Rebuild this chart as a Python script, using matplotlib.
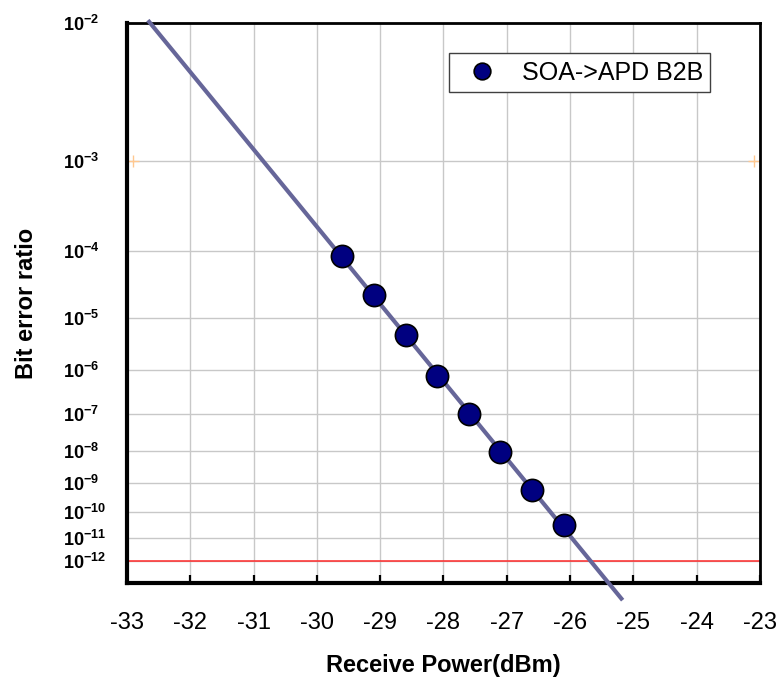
import math
import numpy as np
import matplotlib
matplotlib.use('Agg')
from matplotlib import pyplot as plt

# measured points (receive power in dBm, bit error ratio)
power = [-29.6, -29.1, -28.6, -28.1, -27.6, -27.1, -26.6, -26.1]
ber = [8.7e-5, 2.3e-5, 4.9e-6, 7.5e-7, 1.0e-7, 9.1e-9, 6.2e-10, 3.1e-11]

# extent of the fitted line
fit_range = [-32.67, -25.17]

x_ticks = list(range(-33, -22))
ber_ticks = [10.0 ** -n for n in range(2, 13)]
ber_labels = [r'$\mathbf{10^{-%d}}$' % n for n in range(2, 13)]

fec_x = [-32.9, -23.1]
fec_ber = [1e-3, 1e-3]
ref_ber = 1e-12
ber_bottom = 9e-14


def q_axis(b):
    # BER -> -log10(Q), Q from 0.5*erfc(Q/sqrt(2)) = BER
    out = []
    for v in np.atleast_1d(b):
        lo, hi = 0.0, 40.0
        for _ in range(80):
            mid = 0.5 * (lo + hi)
            if 0.5 * math.erfc(mid / math.sqrt(2)) > v:
                lo = mid
            else:
                hi = mid
        out.append(-math.log10(0.5 * (lo + hi)))
    return np.array(out)


plt.rcParams['font.family'] = ['Liberation Sans', 'DejaVu Sans']
plt.rcParams['mathtext.fontset'] = 'custom'
plt.rcParams['mathtext.rm'] = 'Liberation Sans'
plt.rcParams['mathtext.bf'] = 'Liberation Sans:bold'

fig = plt.figure(figsize=(7.78, 6.79), dpi=100)
ax = fig.add_axes([0.1632, 0.1414, 0.8137, 0.8247])

y = q_axis(ber)
coef = np.polyfit(power, y, 1)
fx = np.array(fit_range)
ax.plot(fx, np.polyval(coef, fx), color='#666699', lw=3.0, zorder=3, clip_on=False,
        solid_capstyle='butt')

ax.plot(power, y, 'o', ms=16, mfc='#000080', mec='black', mew=1.2, zorder=4,
        label='SOA->APD B2B')

ax.axhline(q_axis(ref_ber)[0], color='#ff2a2a', lw=1.1, zorder=2)
ax.plot(fec_x, q_axis(fec_ber), '+', color='#ffc890', ms=8, mew=1.0, zorder=2)

ax.set_xlim(-33, -23)
ax.set_ylim(q_axis(ber_bottom)[0], q_axis(1e-2)[0])
ax.set_xticks(x_ticks)
ax.set_xticklabels([str(v) for v in x_ticks], fontsize=17)
ax.set_yticks(q_axis(ber_ticks))
ax.set_yticklabels(ber_labels, fontsize=13)
for lbl in ax.get_yticklabels():
    lbl.set_ha('left')

ax.tick_params(axis='x', direction='in', length=6, width=1.6, pad=21)
ax.tick_params(axis='y', length=0, pad=46)
ax.grid(True, color='#c8c8c8', lw=1.0, zorder=0)
ax.set_axisbelow(True)

for side in ['left', 'bottom']:
    ax.spines[side].set_linewidth(3.0)
for side in ['top', 'right']:
    ax.spines[side].set_linewidth(2.0)

ax.set_xlabel('Receive Power(dBm)', fontsize=17, fontweight='bold', labelpad=14)
ax.set_ylabel('Bit error ratio', fontsize=17, fontweight='bold', labelpad=18)

leg = ax.legend(loc='upper left', bbox_to_anchor=(0.509, 0.946), borderaxespad=0,
                fontsize=18, markerscale=0.75, fancybox=False, framealpha=1,
                edgecolor='#404040', handletextpad=0.6, borderpad=0.3)
leg.get_frame().set_linewidth(1.0)

fig.savefig('out.png', dpi=100)
